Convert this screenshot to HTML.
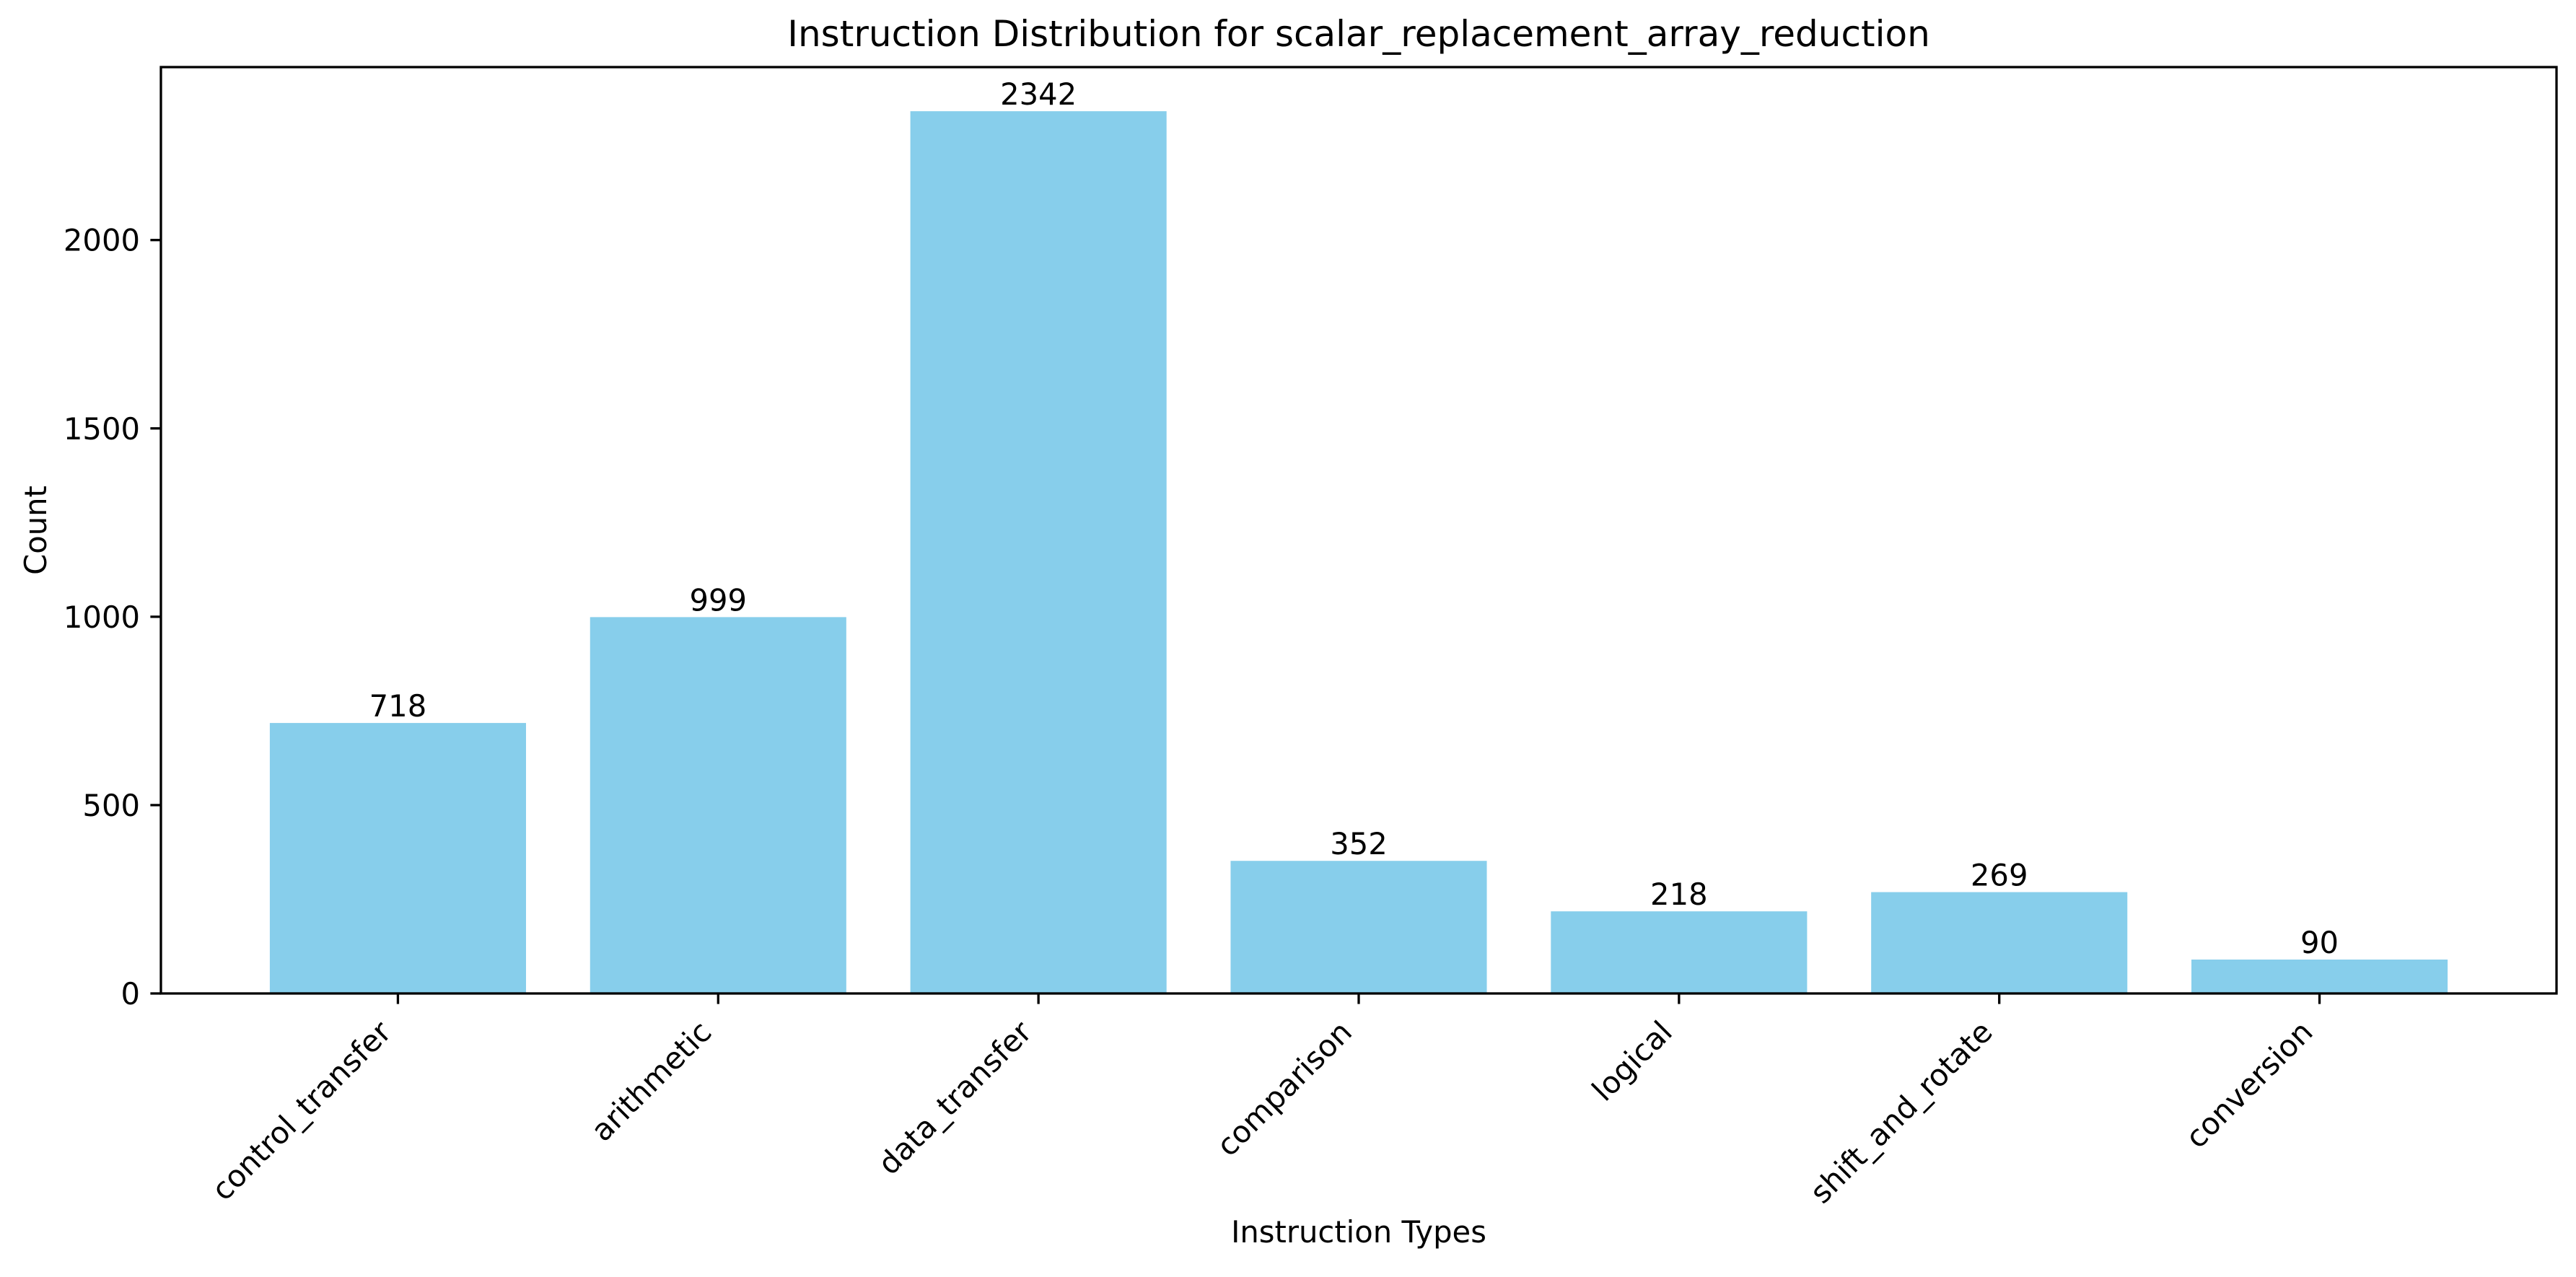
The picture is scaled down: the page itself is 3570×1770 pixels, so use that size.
<!DOCTYPE html>
<html><head><meta charset="utf-8"><style>
html,body{margin:0;padding:0;background:#fff}
svg text{font-family:"DejaVu Sans","Liberation Sans",sans-serif;fill:#000}
</style></head><body>
<svg id="chart" width="3570" height="1765" viewBox="0 0 3570 1765" xmlns="http://www.w3.org/2000/svg">
<rect width="3570" height="1765" fill="#fff"/>
<text x="1883" y="64" font-size="50" text-anchor="middle">Instruction Distribution for scalar_replacement_array_reduction</text>
<text transform="translate(64,735) rotate(-90)" font-size="41.7" text-anchor="middle">Count</text>
<text x="1883" y="1722" font-size="41.7" text-anchor="middle">Instruction Types</text>
<g id="bars"></g><g id="axes"></g>
</svg>
<script>
const categories = ["control_transfer","arithmetic","data_transfer","comparison","logical","shift_and_rotate","conversion"];
const counts = [718, 999, 2342, 352, 218, 269, 90];
const yTicks = [0, 500, 1000, 1500, 2000];

const L = 223, R = 3543, T = 93, B = 1377;
const NS = "http://www.w3.org/2000/svg";
const xmin = -0.74, xmax = categories.length - 1 + 0.74;
const ymax = Math.max(...counts) * 1.05;
const xs = v => L + (v - xmin) / (xmax - xmin) * (R - L);
const ys = v => B - v / ymax * (B - T);
function mk(tag, attrs, parent) {
  const e = document.createElementNS(NS, tag);
  for (const k in attrs) e.setAttribute(k, attrs[k]);
  parent.appendChild(e); return e;
}
const bars = document.getElementById('bars');
const axes = document.getElementById('axes');
const bw = xs(0.4) - xs(-0.4);
categories.forEach((c, i) => {
  const r = mk('rect', {x: xs(i) - bw / 2, y: ys(counts[i]), width: bw, height: B - ys(counts[i]), fill: '#87CEEB'}, bars);
  
  
  const t = mk('text', {x: xs(i), y: ys(counts[i]) - 9, 'font-size': 41.7, 'text-anchor': 'middle'}, bars);
  t.textContent = counts[i];
  
  
  const tk = mk('line', {x1: xs(i), x2: xs(i), y1: B, y2: B + 14.6, stroke: '#000', 'stroke-width': 3.3}, axes);
  
  
  const lx = xs(i) - 7, ly = 1433;
  const lb = mk('text', {x: lx, y: ly, 'font-size': 41.7, 'text-anchor': 'end', transform: `rotate(-45 ${lx} ${ly})`}, axes);
  lb.textContent = c;
  
  
});
yTicks.forEach(v => {
  const tk = mk('line', {x1: L - 14.6, x2: L, y1: ys(v), y2: ys(v), stroke: '#000', 'stroke-width': 3.3}, axes);
  
  
  const t = mk('text', {x: L - 29, y: ys(v) + 15, 'font-size': 41.7, 'text-anchor': 'end'}, axes);
  t.textContent = v;
  
  
});
const frame = mk('rect', {x: L, y: T, width: R - L, height: B - T, fill: 'none', stroke: '#000', 'stroke-width': 3.3}, axes);


</script>
</body></html>
